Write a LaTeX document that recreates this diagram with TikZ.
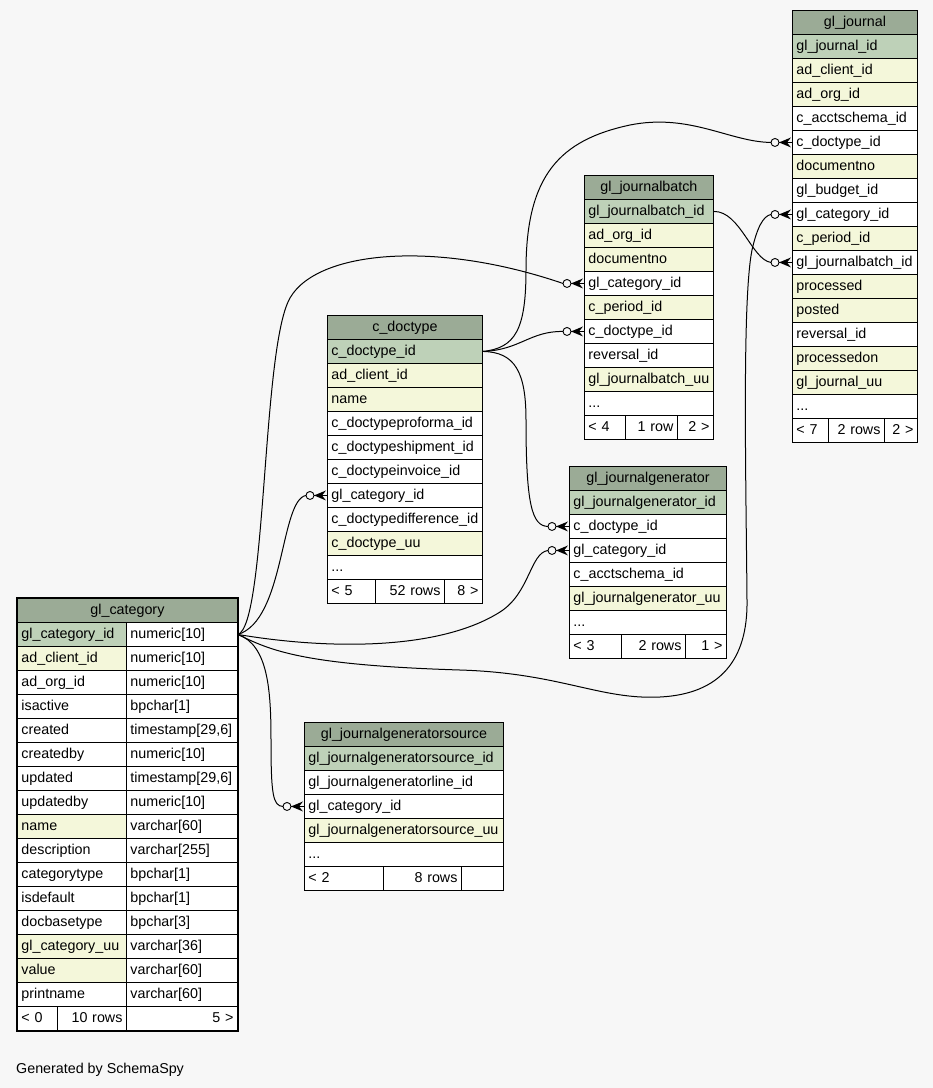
\documentclass[tikz,border=0pt]{standalone}
\usepackage{fontspec}
\setmainfont{Liberation Sans}
\usetikzlibrary{calc}
\definecolor{canvas}{HTML}{F7F7F7}
\definecolor{tablehead}{HTML}{9BAB96}
\definecolor{primarykey}{HTML}{BED1B8}
\definecolor{indexed}{HTML}{F4F7DA}
\definecolor{ink}{HTML}{000000}
\tikzset{
  every node/.style={font=\fontsize{14.3}{16}\selectfont,text=ink},
  cell/.style={draw=ink,line width=0.9pt,fill=white,anchor=north west,minimum height=24pt,
    inner xsep=4pt,inner ysep=0pt,text height=10.5pt,text depth=3pt,align=left},
  headcell/.style={cell,fill=tablehead,align=center},
  footl/.style={cell,align=left},
  footr/.style={cell,align=right},
  fkline/.style={draw=ink,line width=1pt},
  frame/.style={draw=ink,line width=2.6pt},
}
\newcommand{\more}{...}
% table: prefix, x, top y, width, title, colour/column list
\newcommand{\dbtable}[6]{%
  \pgfmathsetmacro{\tw}{#4-8}%
  \node[headcell,text width=\tw pt] (#1-0) at (#2,#3) {#5};
  \foreach \c/\t [count=\i] in {#6}
    \node[cell,fill=\c,text width=\tw pt] (#1-\i) at (#2,#3+24*\i) {\t};
}
% footer: prefix, y, x0, x1, x2, x3, left, middle, right
\newcommand{\dbfoot}[9]{%
  \pgfmathsetmacro{\wa}{#4-#3-8}%
  \pgfmathsetmacro{\wb}{#5-#4-8}%
  \pgfmathsetmacro{\wc}{#6-#5-8}%
  \node[footl,text width=\wa pt] (#1-fa) at (#3,#2) {#7};
  \node[footr,text width=\wb pt] (#1-fb) at (#4,#2) {#8};
  \node[footr,text width=\wc pt] (#1-fc) at (#5,#2) {#9};
}
% zero-or-many end at the west side of a row
\newcommand{\fkend}[1]{%
  \coordinate (#1-fk) at ($(#1.west)+(-21,0)$);
  \draw[line width=0.9pt,fill=canvas] ($(#1.west)+(-17,0)$) circle (4pt);
  \fill[ink] ($(#1.west)+(-13,0)$) -- ($(#1.west)+(-1,5)$) -- ($(#1.west)+(-5,0)$)
    -- ($(#1.west)+(-1,-5)$) -- cycle;
  \draw[line width=0.9pt] ($(#1.west)+(-13,0)$) -- (#1.west);
}

\begin{document}
\begin{tikzpicture}[x=1pt,y=-1pt]
  \useasboundingbox (0,0) rectangle (933,1088);
  \fill[canvas] (0,0) rectangle (933,1088);

  % tables
  \dbtable{jrn}{792}{10}{125}{gl\_journal}{primarykey/gl\_journal\_id, indexed/ad\_client\_id,
    indexed/ad\_org\_id, white/c\_acctschema\_id, white/c\_doctype\_id, indexed/documentno,
    white/gl\_budget\_id, white/gl\_category\_id, indexed/c\_period\_id, white/gl\_journalbatch\_id,
    indexed/processed, indexed/posted, white/reversal\_id, indexed/processedon,
    indexed/gl\_journal\_uu, white/\more}
  \dbfoot{jrn}{418}{792}{828}{884}{917}{< 7}{2 rows}{2 >}

  \dbtable{jb}{584}{175}{129}{gl\_journalbatch}{primarykey/gl\_journalbatch\_id, indexed/ad\_org\_id,
    indexed/documentno, white/gl\_category\_id, indexed/c\_period\_id, white/c\_doctype\_id,
    white/reversal\_id, indexed/gl\_journalbatch\_uu, white/\more}
  \dbfoot{jb}{415}{584}{625}{677}{713}{< 4}{1 row}{2 >}

  \dbtable{cdt}{327}{315}{155}{c\_doctype}{primarykey/c\_doctype\_id, indexed/ad\_client\_id,
    indexed/name, white/c\_doctypeproforma\_id, white/c\_doctypeshipment\_id,
    white/c\_doctypeinvoice\_id, white/gl\_category\_id, white/c\_doctypedifference\_id,
    indexed/c\_doctype\_uu, white/\more}
  \dbfoot{cdt}{579}{327}{375}{444}{482}{< 5}{52 rows}{8 >}

  \dbtable{jg}{569}{466}{157}{gl\_journalgenerator}{primarykey/gl\_journalgenerator\_id,
    white/c\_doctype\_id, white/gl\_category\_id, white/c\_acctschema\_id,
    indexed/gl\_journalgenerator\_uu, white/\more}
  \dbfoot{jg}{634}{569}{621}{685}{726}{< 3}{2 rows}{1 >}

  \dbtable{jgs}{304}{722}{199}{gl\_journalgeneratorsource}{primarykey/gl\_journalgeneratorsource\_id,
    white/gl\_journalgeneratorline\_id, white/gl\_category\_id,
    indexed/gl\_journalgeneratorsource\_uu, white/\more}
  \dbfoot{jgs}{866}{304}{383}{461}{503}{< 2}{8 rows}{}

  % gl_category, two columns
  \node[headcell,text width=212pt] (cat-0) at (17,598) {gl\_category};
  \foreach \c/\n/\ty [count=\i] in {primarykey/gl\_category\_id/numeric[10],
      indexed/ad\_client\_id/numeric[10], white/ad\_org\_id/numeric[10], white/isactive/bpchar[1],
      white/created/{timestamp[29,6]}, white/createdby/numeric[10], white/updated/{timestamp[29,6]},
      white/updatedby/numeric[10], indexed/name/varchar[60], white/description/varchar[255],
      white/categorytype/bpchar[1], white/isdefault/bpchar[1], white/docbasetype/bpchar[3],
      indexed/gl\_category\_uu/varchar[36], indexed/value/varchar[60], white/printname/varchar[60]} {
    \node[cell,fill=\c,text width=101pt] (cat-\i) at (17,598+24*\i) {\n};
    \node[cell,text width=103pt] (catr-\i) at (126,598+24*\i) {\ty};
  }
  \dbfoot{cat}{1006}{17}{57}{126}{237}{< 0}{10 rows}{5 >}
  \draw[frame] (cat-0.north west) rectangle (cat-fc.south east);

  % foreign key ends
  \fkend{jrn-5} \fkend{jrn-8} \fkend{jrn-10}
  \fkend{jb-4} \fkend{jb-6}
  \fkend{cdt-7}
  \fkend{jg-2} \fkend{jg-3}
  \fkend{jgs-3}

  % relations from gl_category
  \draw[fkline] (catr-1.east) .. controls (266,625) and (262,360) .. (288,302)
    .. controls (310,252) and (430,238) .. (jb-4-fk);
  \draw[fkline] (catr-1.east) .. controls (285,620) and (280,500) .. (cdt-7-fk);
  \draw[fkline] (catr-1.east) .. controls (330,650) and (440,650) .. (500,612)
    .. controls (530,593) and (530,553) .. (jg-3-fk);
  \draw[fkline] (catr-1.east) .. controls (270,650) and (300,665) .. (460,670)
    .. controls (560,673) and (600,700) .. (660,697)
    .. controls (720,694) and (748,660) .. (747,600)
    .. controls (746,480) and (742,300) .. (752,250)
    .. controls (757,228) and (763,216) .. (jrn-8-fk);
  \draw[fkline] (catr-1.east) .. controls (268,645) and (271,690) .. (271,740)
    .. controls (271,795) and (273,806) .. (jgs-3-fk);

  % relations from c_doctype and gl_journalbatch
  \draw[fkline] (cdt-1.east) .. controls (515,348) and (526,330) .. (526,270)
    .. controls (526,175) and (560,140) .. (630,125)
    .. controls (690,113) and (730,142) .. (jrn-5-fk);
  \draw[fkline] (cdt-1.east) .. controls (520,350) and (530,331) .. (jb-6-fk);
  \draw[fkline] (cdt-1.east) .. controls (515,352) and (526,372) .. (526,420)
    .. controls (526,505) and (532,526) .. (jg-2-fk);
  \draw[fkline] (jb-1.east) .. controls (740,211) and (752,260) .. (jrn-10-fk);

  \node[anchor=base west,inner sep=0pt] (credit) at (16,1073) {Generated by SchemaSpy};
\end{tikzpicture}
\end{document}
